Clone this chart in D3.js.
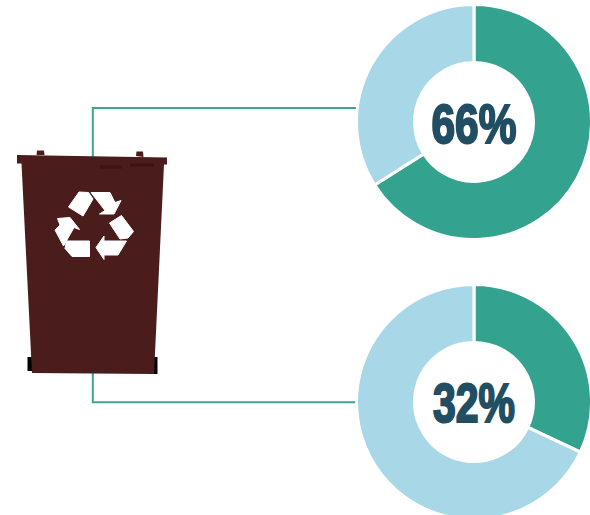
<!DOCTYPE html>
<html>
<head>
<meta charset="utf-8">
<script src="https://cdn.jsdelivr.net/npm/d3@7"></script>
<style>
html,body{margin:0;padding:0;background:#fff;overflow:hidden}
svg{display:block}
</style>
</head>
<body>
<svg id="chart" width="590" height="515"></svg>
<script>
// Share of waste for each of the two rings
const labels = ["66%", "32%"];
const shares = [66, 32];
const remainders = [34, 68];

const GREEN = "#33a28f", PALE = "#a8d8e8", INK = "#224e63", BIN = "#4a1c1c";
const svg = d3.select("#chart");

// Ring layout
const ringX = 474, ringY = d3.scalePoint().domain(labels).range([122, 402]);
const outerR = 117.5, innerR = 59.5;
const pie = d3.pie().sort(null).value(d => d);
const arc = d3.arc().innerRadius(innerR).outerRadius(outerR);
const colour = d3.scaleOrdinal().domain([0, 1]).range([GREEN, PALE]);

// Connectors from the bin to each ring
const connector = d3.line();
svg.append("path").attr("d", connector([[92.8, 158], [92.8, 108], [356, 108]]))
  .attr("fill", "none").attr("stroke", "#38a693").attr("stroke-width", 2);
svg.append("path").attr("d", connector([[92.8, 373], [92.8, 402.3], [356, 402.3]]))
  .attr("fill", "none").attr("stroke", "#38a693").attr("stroke-width", 2);

labels.forEach((label, i) => {
  const g = svg.append("g").attr("transform", `translate(${ringX},${ringY(label)})`);
  g.selectAll("path").data(pie([shares[i], remainders[i]])).join("path")
    .attr("d", arc).attr("fill", (d, j) => colour(j))
    .attr("stroke", "#fff").attr("stroke-width", 3);
  g.append("text").text(label)
    .attr("text-anchor", "middle").attr("y", i === 0 ? 21 : 20)
    .attr("textLength", i === 0 ? 85 : 82).attr("lengthAdjust", "spacingAndGlyphs")
    .attr("font-family", "'Liberation Sans Narrow','Liberation Sans',sans-serif")
    .attr("font-weight", 700).attr("font-size", 56)
    .attr("fill", INK).attr("stroke", INK).attr("stroke-width", 2.2);
});

// Bin illustration
const bin = svg.append("g");
bin.append("path").attr("fill", "#000").attr("d", "M27.5 357H33V371H27.5Z M152 357H157.5V374H152Z");
bin.append("path").attr("fill", BIN).attr("d",
  "M36.5 155L37 150.5H44L44.5 155Z M136 156L136.5 151.5H143L143.5 157Z");
bin.append("path").attr("fill", BIN).attr("d",
  "M17 155L167 157.5L167 164.5L164 164.5L154 374L32 373L21.5 163.5L17 163.5Z");
bin.append("path").attr("fill", "#3a1212").attr("opacity", 0.75).attr("d",
  "M100 165.5H122V168.5H100Z M130 163.5H154V166.5H130Z");

// Recycling symbol
const recycle = [
  "M79 192L88.5 192.5L93 199L83 216L68.5 207Z",
  "M91 192.5H110L115 202.5L121 200.5L114 214H99.5L105 210.5Z",
  "M121.5 215.5L133.5 231.5L128 238L120 239L109.5 223Z",
  "M126.5 241L118 255H104V259.5L96 247.5L104 236V241Z",
  "M66.5 241H89.5V256.5H72L65 248.5Z",
  "M57.5 218.5L70 217.5L79.5 229.5L74 227.5L63.5 246L55 230L60 225Z"
];
bin.append("g").selectAll("path").data(recycle).join("path")
  .attr("d", d => d).attr("fill", "#fff")
  .attr("stroke", "#fff").attr("stroke-width", 1).attr("stroke-linejoin", "round");
</script>
</body>
</html>
